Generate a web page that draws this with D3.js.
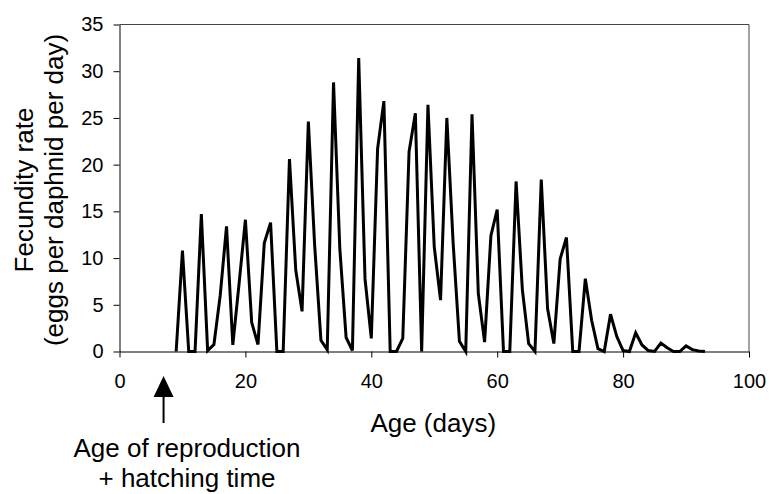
<!DOCTYPE html>
<html>
<head>
<meta charset="utf-8">
<script src="https://cdn.jsdelivr.net/npm/d3@7"></script>
<style>
  html, body { margin: 0; padding: 0; background: #fff; }
  svg { display: block; font-family: "Liberation Sans", Arial, sans-serif; }
</style>
</head>
<body>
<svg id="chart" width="770" height="494"></svg>
<script>
// ---- data ----
const ageDays = [9,10,11,12,13,14,15,16,17,18,19,20,21,22,23,24,25,26,27,28,29,30,31,32,33,34,35,36,37,38,39,40,41,42,43,44,45,46,47,48,49,50,51,52,53,54,55,56,57,58,59,60,61,62,63,64,65,66,67,68,69,70,71,72,73,74,75,76,77,78,79,80,81,82,83,84,85,86,87,88,89,90,91,92,93];
const fecundity = [0,10.8,0,0,14.7,0.1,0.75,6.0,13.4,0.7,7.3,14.1,3.1,0.75,11.6,13.8,0,0,20.6,8.7,4.3,24.6,11.4,1.2,0.2,28.8,11.0,1.5,0.1,31.4,7.8,1.4,21.7,26.8,0,0,1.4,21.4,25.5,0,26.4,11.2,5.5,25.0,11.6,1.1,0,25.4,6.2,1.0,12.4,15.2,0,0,18.2,6.6,0.85,0,18.4,4.6,0.85,9.9,12.2,0,0,7.8,3.35,0.3,0,4.0,1.6,0.1,0,2.0,0.7,0.1,0,0.9,0.4,0,0,0.6,0.2,0.05,0];
const xTicks = [0,20,40,60,80,100];
const yTicks = [0,5,10,15,20,25,30,35];
const xTitle = "Age (days)";
const yTitleLines = ["Fecundity rate", "(eggs per daphnid per day)"];
const annotationLines = ["Age of reproduction", "+ hatching time"];
const annotationAge = 7;

// ---- layout ----
const svg = d3.select("#chart");
const L = 119.5, R = 749, T = 24.5, B = 351.5;
const x = d3.scaleLinear().domain([0, 100]).range([L, R]);
const y = d3.scaleLinear().domain([0, 35]).range([B, T]);

// plot frame (top and right)
svg.append("path")
  .attr("d", `M${L},${T}H${R}V${B}`)
  .attr("fill", "none").attr("stroke", "#444").attr("stroke-width", 1);

// axes
const xAxis = svg.append("g").attr("transform", `translate(0,${B})`)
  .call(d3.axisBottom(x).tickValues(xTicks).tickSize(6).tickSizeOuter(0).tickPadding(16));
const yAxis = svg.append("g").attr("transform", `translate(${L},0)`)
  .call(d3.axisLeft(y).tickValues(yTicks).tickSize(6).tickSizeOuter(0).tickPadding(10));
[xAxis, yAxis].forEach(g => {
  g.attr("font-family", null).attr("font-size", null);
  g.selectAll("text").style("font-size", "20px").attr("fill", "#000");
  g.selectAll("line, path").attr("stroke", "#000").attr("stroke-width", 1);
});

// series line
const line = d3.line().x((d, i) => x(ageDays[i])).y(d => y(d));
svg.append("path")
  .datum(fecundity)
  .attr("d", line)
  .attr("fill", "none")
  .attr("stroke", "#000")
  .attr("stroke-width", 3)
  .attr("stroke-linejoin", "miter");

// axis titles
svg.append("text")
  .attr("x", (L + R) / 2 - 1).attr("y", 432)
  .attr("text-anchor", "middle").style("font-size", "26px")
  .text(xTitle);

const yT = svg.append("text")
  .attr("transform", `translate(0,${(T + B) / 2 + 2}) rotate(-90)`)
  .attr("text-anchor", "middle").style("font-size", "26px");
yT.append("tspan").attr("x", 0).attr("y", 33).text(yTitleLines[0]);
yT.append("tspan").attr("x", 0).attr("y", 63).text(yTitleLines[1]);

// annotation arrow + text
const ax = x(annotationAge);
svg.append("line")
  .attr("x1", ax).attr("x2", ax).attr("y1", 394).attr("y2", 423)
  .attr("stroke", "#000").attr("stroke-width", 2);
svg.append("path")
  .attr("d", `M${ax},376L${ax + 10},397L${ax - 10},397Z`)
  .attr("fill", "#000");
const ann = svg.append("text").attr("text-anchor", "middle").style("font-size", "26px");
ann.append("tspan").attr("x", 187).attr("y", 457).text(annotationLines[0]);
ann.append("tspan").attr("x", 187).attr("y", 487).text(annotationLines[1]);
</script>
</body>
</html>
